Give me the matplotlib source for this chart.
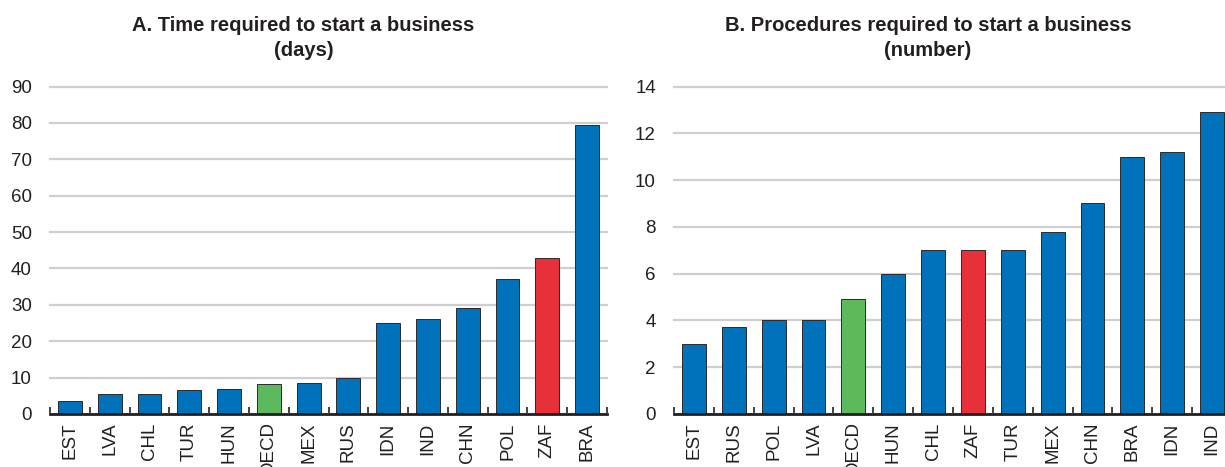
import numpy as np
import matplotlib
matplotlib.use('Agg')
import matplotlib.pyplot as plt

# Panel A: time required to start a business (days)
a_countries = ['EST', 'LVA', 'CHL', 'TUR', 'HUN', 'OECD', 'MEX', 'RUS', 'IDN', 'IND', 'CHN', 'POL', 'ZAF', 'BRA']
a_days = [3.6, 5.5, 5.5, 6.5, 7.0, 8.2, 8.5, 10.0, 25.0, 26.0, 29.0, 37.0, 43.0, 79.5]

# Panel B: procedures required to start a business (number)
b_countries = ['EST', 'RUS', 'POL', 'LVA', 'OECD', 'HUN', 'CHL', 'ZAF', 'TUR', 'MEX', 'CHN', 'BRA', 'IDN', 'IND']
b_procs = [3.0, 3.7, 4.0, 4.0, 4.9, 6.0, 7.0, 7.0, 7.0, 7.8, 9.0, 11.0, 11.2, 12.9]

BLUE = '#0072BB'
GREEN = '#5CBA5C'
RED = '#E8303A'
TXT = '#231F20'

plt.rcParams['font.family'] = ['Liberation Sans', 'DejaVu Sans']


def colour_for(c):
    if c == 'OECD':
        return GREEN
    if c == 'ZAF':
        return RED
    return BLUE


def draw_panel(ax, countries, values, ymax, ystep, title):
    n = len(countries)
    x = np.arange(n)
    ax.bar(x, values, width=0.6, color=[colour_for(c) for c in countries],
           edgecolor='#2a2a2a', linewidth=0.7, zorder=3)
    ax.set_xlim(-0.5, n - 0.5)
    ax.set_ylim(0, ymax)
    yt = np.arange(0, ymax + ystep / 2, ystep)
    ax.set_yticks(yt)
    ax.set_yticklabels([f'{int(v)}' for v in yt], fontsize=13.5, color=TXT)
    ax.set_xticks(x)
    ax.set_xticklabels(countries, rotation=90, fontsize=13.5, color=TXT)
    ax.set_xticks(np.arange(-0.5, n, 1), minor=True)
    ax.tick_params(axis='x', which='major', length=0, pad=6)
    ax.tick_params(axis='x', which='minor', direction='in', length=5, width=1.2, color=TXT)
    ax.tick_params(axis='y', length=0, pad=13)
    ax.grid(axis='y', color='#CFCFCF', linewidth=1.6, zorder=0)
    ax.set_axisbelow(True)
    for gl in ax.get_ygridlines():
        gl.set_clip_on(False)
    for s in ['top', 'right', 'left']:
        ax.spines[s].set_visible(False)
    ax.spines['bottom'].set_color(TXT)
    ax.spines['bottom'].set_linewidth(2)
    ax.spines['bottom'].set_zorder(4)
    ax.set_title(title, x=0.455, pad=22, fontsize=14.5, fontweight='bold',
                 color=TXT, linespacing=1.4)


fig = plt.figure(figsize=(12.25, 4.67), dpi=100)
ax1 = fig.add_axes([50 / 1225, 53 / 467, 557 / 1225, 327.5 / 467])
ax2 = fig.add_axes([674 / 1225, 53 / 467, 558 / 1225, 327.5 / 467])

draw_panel(ax1, a_countries, a_days, 90, 10, 'A. Time required to start a business\n(days)')
draw_panel(ax2, b_countries, b_procs, 14, 2, 'B. Procedures required to start a business\n(number)')

fig.savefig('out.png', dpi=100)
